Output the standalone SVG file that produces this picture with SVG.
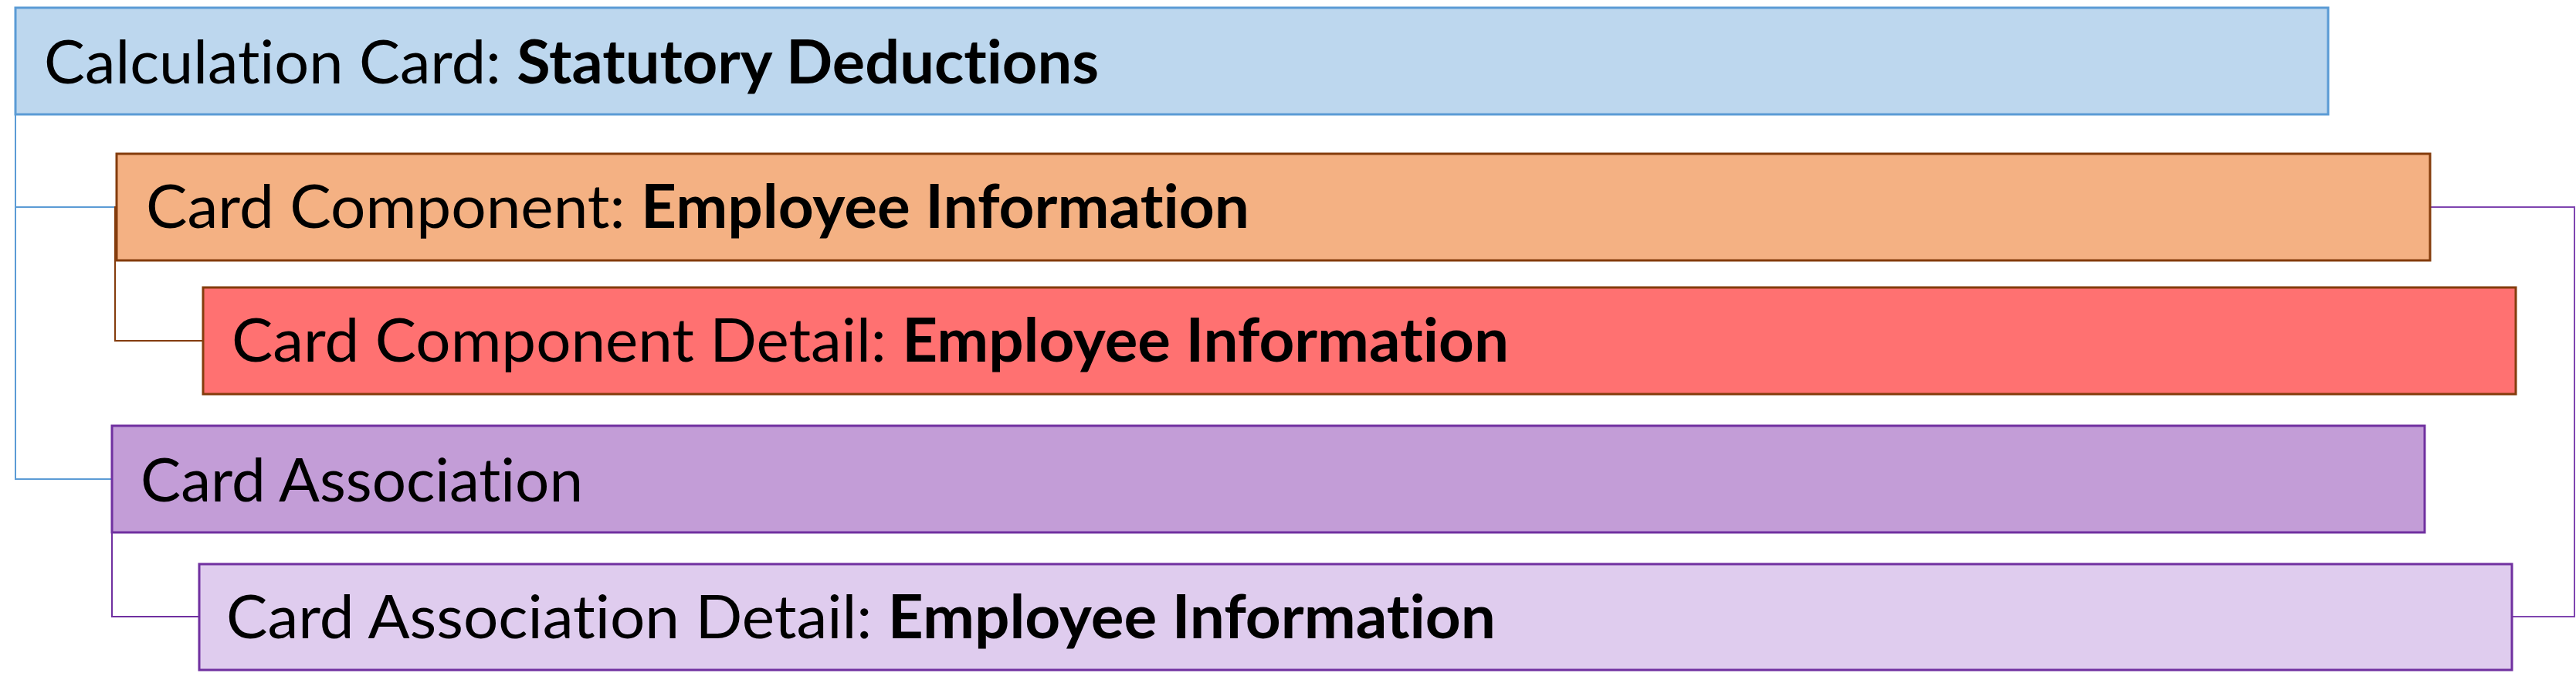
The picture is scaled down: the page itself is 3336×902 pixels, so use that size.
<svg xmlns="http://www.w3.org/2000/svg" width="3336" height="902" viewBox="0 0 3336 902">
  <style>
    .box { stroke-width: 3; }
    .lbl { font-family: Lato, "Open Sans", "Liberation Sans", sans-serif; font-size: 78px; fill: #000000; font-variant-ligatures: none; }
    .b { font-weight: bold; }
    .conn { fill: none; stroke-width: 2; }
  </style>
  <rect width="3336" height="902" fill="#ffffff"/>
  <g id="connectors">
    <path class="conn" d="M20,148 V620 H145 M20,268 H151" stroke="#5B9BD5"/>
    <path class="conn" d="M151,268 H149 V441 H263" stroke="#843C0C"/>
    <path class="conn" d="M145,689 V798 H258" stroke="#7030A0"/>
    <path class="conn" d="M3147,268 H3334 V798 H3253" stroke="#7F45B0"/>
  </g>
  <g id="calculation-card">
    <rect class="box" x="20" y="10" width="2995" height="138" fill="#BDD7EE" stroke="#5B9BD5"/>
    <text class="lbl" x="57" y="108" textLength="1366" lengthAdjust="spacingAndGlyphs">Calculation Card: <tspan class="b">Statutory Deductions</tspan></text>
  </g>
  <g id="card-component">
    <rect class="box" x="151" y="199" width="2996" height="138" fill="#F4B183" stroke="#843C0C"/>
    <text class="lbl" x="189" y="295" textLength="1429" lengthAdjust="spacingAndGlyphs">Card Component: <tspan class="b">Employee Information</tspan></text>
  </g>
  <g id="card-component-detail">
    <rect class="box" x="263" y="372" width="2995" height="138" fill="#FF7171" stroke="#843C0C"/>
    <text class="lbl" x="300" y="468" textLength="1654" lengthAdjust="spacingAndGlyphs">Card Component Detail: <tspan class="b">Employee Information</tspan></text>
  </g>
  <g id="card-association">
    <rect class="box" x="145" y="551" width="2995" height="138" fill="#C39DD7" stroke="#7030A0"/>
    <text class="lbl" x="182" y="649" textLength="573" lengthAdjust="spacingAndGlyphs">Card Association</text>
  </g>
  <g id="card-association-detail">
    <rect class="box" x="258" y="730" width="2995" height="137" fill="#DFCCEE" stroke="#7030A0"/>
    <text class="lbl" x="293" y="826" textLength="1644" lengthAdjust="spacingAndGlyphs">Card Association Detail: <tspan class="b">Employee Information</tspan></text>
  </g>
</svg>
